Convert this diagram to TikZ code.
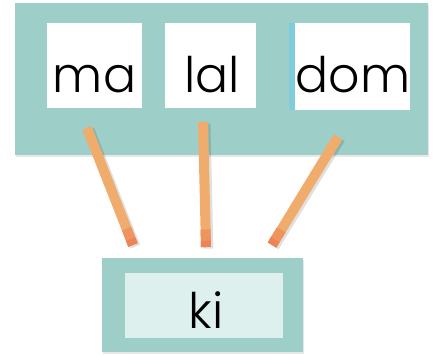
\documentclass[tikz,border=0pt]{standalone}
\usepackage{fontspec}
\setmainfont{Poppins}[UprightFont=* Light]
\usetikzlibrary{calc,shadows}
\definecolor{boardteal}{RGB}{157,206,199}
\definecolor{kipale}{RGB}{221,240,238}
\definecolor{stickorange}{RGB}{240,172,108}
\definecolor{sticktip}{RGB}{236,118,78}
\definecolor{stripblue}{RGB}{128,204,218}
\tikzset{
  board/.style={fill=boardteal,draw=none,inner sep=0pt,
    drop shadow={opacity=0.18,shadow xshift=0.6pt,shadow yshift=-1pt}},
  card/.style={fill=white,draw=none,inner sep=0pt},
  word/.style={font=\fontsize{24.5}{28}\selectfont,inner sep=0pt,anchor=base},
  stick/.style={stickorange,line width=5pt},
  stickshade/.style={black,opacity=0.12,line width=5pt}
}
% one stick from the top board down to the ki board
\newcommand{\stick}[2]{%
  \draw[stickshade,transform canvas={xshift=1.2pt,yshift=-0.8pt}] (#1) -- (#2);
  \draw[stick] (#1) -- (#2);
  \draw[stick,sticktip!45!stickorange] ($(#1)!0.86!(#2)$) -- (#2);
  \draw[stick,sticktip!75!stickorange] ($(#1)!0.95!(#2)$) -- (#2);
}

\begin{document}
\begin{tikzpicture}[x=0.5pt,y=-0.5pt]
    \useasboundingbox (0,0) rectangle (437,355);
    % top board with the three syllables
    \node[board,minimum width=206.5pt,minimum height=76pt] (top) at (221.5,79) {};
    \fill[stripblue] (289,23) rectangle (295,110);
    \node[card,minimum width=47.5pt,minimum height=42.5pt] (ma) at (94.5,65.5) {};
    \node[card,minimum width=45.5pt,minimum height=42.5pt] (lal) at (210.5,65.5) {};
    \node[card,minimum width=57.5pt,minimum height=43.5pt] (dom) at (352.5,66.5) {};
    \node[word] (matext) at (94.5,92) {ma};
    \node[word] (laltext) at (212,92) {lal};
    \node[word] (domtext) at (353,92) {dom};
    % bottom board
    \node[board,minimum width=100.5pt,minimum height=47pt] (bottom) at (202.5,305) {};
    \node[card,fill=kipale,minimum width=79pt,minimum height=32.5pt] (ki) at (204,305.5) {};
    \node[word] (kitext) at (206,328) {ki};
    % the sticks
    \coordinate (s1top) at (87,128);
    \coordinate (s1bot) at (133,245);
    \coordinate (s2top) at (203,122);
    \coordinate (s2bot) at (206,247);
    \coordinate (s3top) at (338,137);
    \coordinate (s3bot) at (272,245);
    \stick{s1top}{s1bot}
    \stick{s2top}{s2bot}
    \stick{s3top}{s3bot}
\end{tikzpicture}
\end{document}
